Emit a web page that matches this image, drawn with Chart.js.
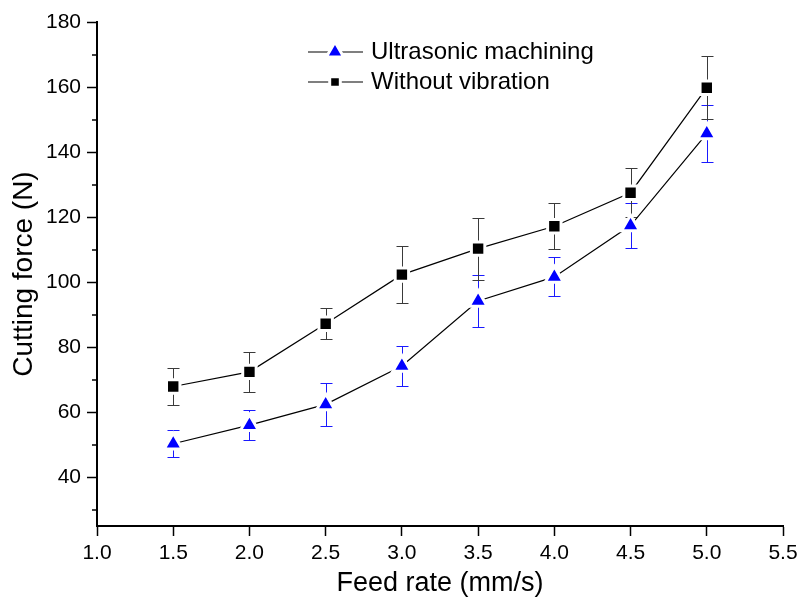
<!DOCTYPE html>
<html>
<head>
<meta charset="utf-8">
<script src="https://cdn.jsdelivr.net/npm/chart.js@4.4.0/dist/chart.umd.min.js"></script>
<style>
  html, body { margin: 0; padding: 0; background: #fff; }
  #wrap { width: 799px; height: 602px; }
</style>
</head>
<body>
<div id="wrap"><canvas id="forceChart" width="799" height="602"></canvas></div>
<script>
/* ===== DATA ===== */
const feedRate = [1.5, 2.0, 2.5, 3.0, 3.5, 4.0, 4.5, 5.0];
const ultrasonic = [50.3, 56.0, 62.4, 74.2, 94.2, 101.6, 117.4, 145.7];
const ultrasonicErr = [4.2, 4.7, 6.7, 6.2, 8.0, 6.0, 7.0, 8.7];
const noVibration = [67.9, 72.4, 87.2, 102.3, 110.3, 117.2, 127.5, 159.8];
const noVibrationErr = [5.7, 6.2, 4.8, 8.8, 9.5, 7.1, 7.6, 9.6];
const xTicks = [1.0, 1.5, 2.0, 2.5, 3.0, 3.5, 4.0, 4.5, 5.0, 5.5];
const yTicks = [30, 40, 50, 60, 70, 80, 90, 100, 110, 120, 130, 140, 150, 160, 170, 180];

const FONT = "'Liberation Sans', Arial, sans-serif";

function points(vals) {
  return feedRate.map((x, i) => ({ x: x, y: vals[i] }));
}

/* ===== ERROR BARS (drawn under the lines and markers) ===== */
const errorBars = {
  id: "errorBars",
  beforeDatasetsDraw(chart) {
    const ctx = chart.ctx, xs = chart.scales.x, ys = chart.scales.y;
    chart.data.datasets.forEach(ds => {
      ctx.save();
      ctx.strokeStyle = ds.errColor;
      ctx.lineWidth = 1;
      ds.data.forEach((p, i) => {
        const px = Math.round(xs.getPixelForValue(p.x)) + 0.5;
        const top = Math.round(ys.getPixelForValue(p.y + ds.errors[i])) + 0.5;
        const bot = Math.round(ys.getPixelForValue(p.y - ds.errors[i])) + 0.5;
        ctx.beginPath();
        ctx.moveTo(px, top); ctx.lineTo(px, bot);
        ctx.moveTo(px - 6, top); ctx.lineTo(px + 6, top);
        ctx.moveTo(px - 6, bot); ctx.lineTo(px + 6, bot);
        ctx.stroke();
      });
      ctx.restore();
    });
  }
};

/* ===== MINOR Y TICKS + LEGEND ===== */
const extras = {
  id: "extras",
  afterDraw(chart) {
    const ctx = chart.ctx, ys = chart.scales.y;
    const left = chart.chartArea.left;
    ctx.save();
    ctx.strokeStyle = "#000";
    ctx.lineWidth = 1.5;
    yTicks.filter(v => v % 20 !== 0).forEach(v => {
      const y = Math.round(ys.getPixelForValue(v));
      ctx.beginPath();
      ctx.moveTo(left - 5, y);
      ctx.lineTo(left, y);
      ctx.stroke();
    });

    const rows = [52, 82];
    chart.data.datasets.forEach((ds, i) => {
      const y = rows[i];
      ctx.strokeStyle = "#000";
      ctx.lineWidth = 1.2;
      ctx.beginPath();
      ctx.moveTo(308, y); ctx.lineTo(363, y);
      ctx.stroke();
      ctx.fillStyle = ds.pointBackgroundColor;
      ctx.strokeStyle = "#fff";
      ctx.lineWidth = 3;
      Chart.helpers.drawPoint(ctx, {
        pointStyle: ds.pointStyle,
        rotation: 0,
        radius: ds.pointStyle === "rect" ? 7.5 : 10,
        borderWidth: 3
      }, 335, y);
      ctx.fillStyle = "#000";
      ctx.font = "24px " + FONT;
      ctx.textAlign = "left";
      ctx.textBaseline = "middle";
      ctx.fillText(ds.label, 371, y);
    });
    ctx.restore();
  }
};

/* ===== CHART ===== */
new Chart(document.getElementById("forceChart"), {
  type: "line",
  data: {
    datasets: [{
      label: "Ultrasonic machining",
      data: points(ultrasonic),
      errors: ultrasonicErr,
      errColor: "#1a1aff",
      borderColor: "#000",
      borderWidth: 1.2,
      pointStyle: "triangle",
      pointRadius: 10.5,
      pointHoverRadius: 10.5,
      pointBackgroundColor: "#0000ff",
      pointBorderColor: "#fff",
      pointBorderWidth: 3,
      fill: false,
      tension: 0
    }, {
      label: "Without vibration",
      data: points(noVibration),
      errors: noVibrationErr,
      errColor: "#3a3a3a",
      borderColor: "#000",
      borderWidth: 1.2,
      pointStyle: "rect",
      pointRadius: 9.5,
      pointHoverRadius: 9.5,
      pointBackgroundColor: "#000",
      pointBorderColor: "#fff",
      pointBorderWidth: 3,
      fill: false,
      tension: 0
    }]
  },
  options: {
    responsive: false,
    animation: false,
    devicePixelRatio: 1,
    layout: { padding: { top: 22, right: 16, bottom: 0, left: 0 } },
    plugins: { legend: { display: false }, tooltip: { enabled: false } },
    scales: {
      x: {
        type: "linear",
        min: 1.0,
        max: 5.5,
        afterBuildTicks: s => { s.ticks = xTicks.map(v => ({ value: v })); },
        afterFit: s => { s.height = 76; s.paddingLeft = 0; s.paddingRight = 0; },
        ticks: {
          callback: v => Number(v).toFixed(1),
          color: "#000",
          font: { family: FONT, size: 21 },
          padding: 5,
          maxRotation: 0,
          autoSkip: false
        },
        grid: { drawOnChartArea: false, drawTicks: true, tickLength: 10, tickColor: "#000", tickWidth: 1.5 },
        border: { display: true, color: "#000", width: 2 },
        title: {
          display: true,
          text: "Feed rate (mm/s)",
          color: "#000",
          font: { family: FONT, size: 27 },
          padding: { top: 0, bottom: 2 }
        }
      },
      y: {
        min: 25,
        max: 180,
        afterBuildTicks: s => { s.ticks = yTicks.map(v => ({ value: v })); },
        afterFit: s => { s.width = 97; },
        ticks: {
          callback: v => (v % 20 === 0 ? String(v) : ""),
          color: "#000",
          font: { family: FONT, size: 21 },
          padding: 6,
          autoSkip: false
        },
        grid: {
          drawOnChartArea: false,
          drawTicks: true,
          tickLength: 10,
          tickWidth: 1.5,
          tickColor: c => (c.tick && c.tick.value % 20 === 0 ? "#000" : "rgba(0,0,0,0)")
        },
        border: { display: true, color: "#000", width: 2 },
        title: {
          display: true,
          text: "Cutting force (N)",
          color: "#000",
          font: { family: FONT, size: 28 },
          padding: { top: 7, bottom: 0 }
        }
      }
    }
  },
  plugins: [errorBars, extras]
});
</script>
</body>
</html>
